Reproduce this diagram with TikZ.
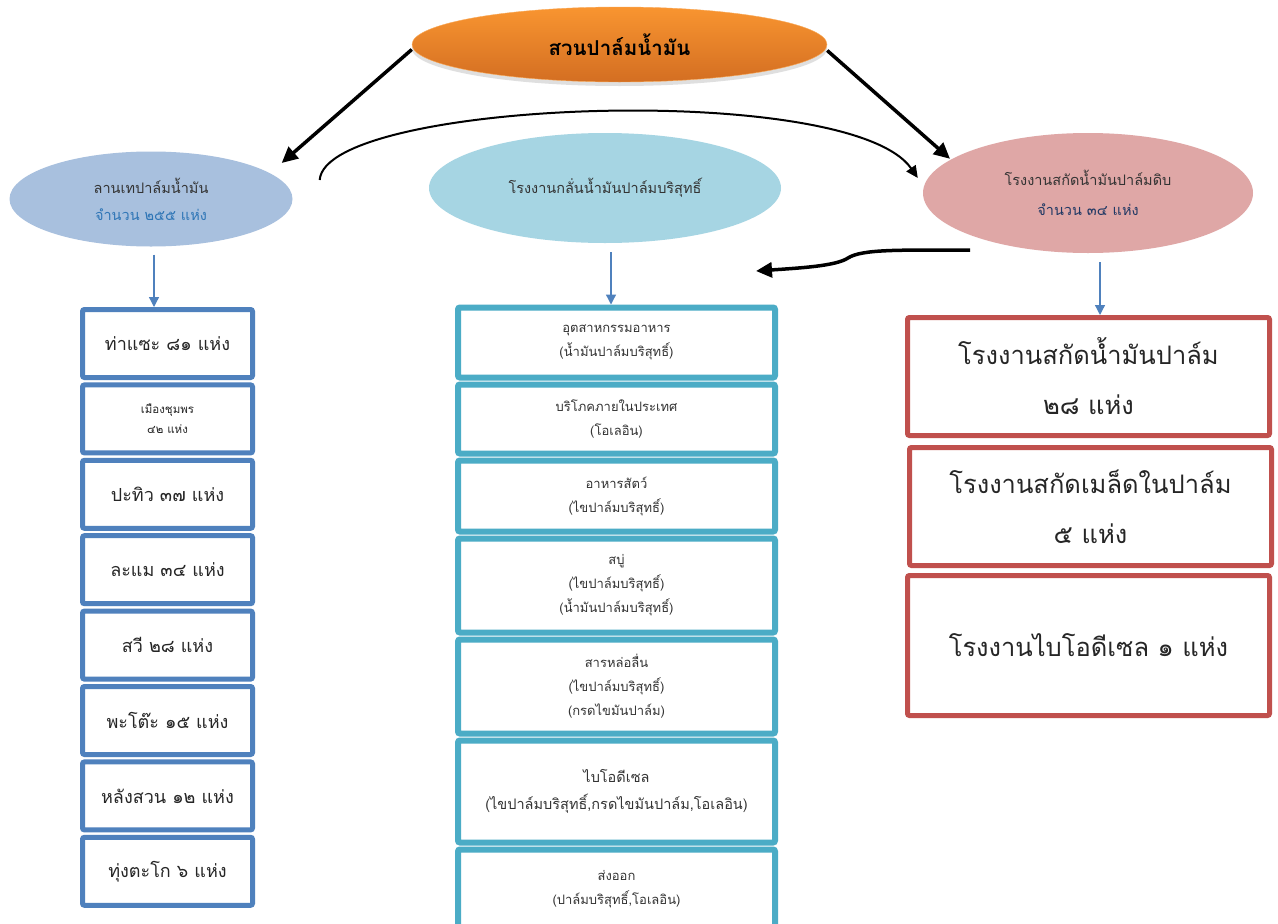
\documentclass[tikz,border=0pt]{standalone}
\usepackage{fontspec}
\setmainfont[Script=Thai]{Loma}
\usetikzlibrary{shapes.geometric,arrows.meta,shadows}
\definecolor{leftblue}{HTML}{4F81BD}
\definecolor{centerblue}{HTML}{4BACC6}
\definecolor{boxred}{HTML}{C0504D}
\definecolor{orangetop}{HTML}{F99530}
\definecolor{orangebot}{HTML}{D36E22}
\definecolor{leftoval}{HTML}{A8C0DE}
\definecolor{centeroval}{HTML}{A6D5E3}
\definecolor{rightoval}{HTML}{DFA7A6}
\definecolor{textblue}{HTML}{2E75B6}
\definecolor{textnavy}{HTML}{203864}
\newcommand{\h}{75.4}
\newcommand{\lx}{167.5}
\newcommand{\cx}{616.5}

\begin{document}
\begin{tikzpicture}[x=1pt,y=-1pt,
    oval/.style={ellipse, inner sep=0pt, align=center, text=black!80},
    lrect/.style={draw=leftblue, line width=5pt, rounded corners=2pt, minimum width=170pt, minimum height=68pt, align=center, text=black!85, font=\fontsize{18}{24}\selectfont},
    crect/.style={draw=centerblue, line width=6pt, rounded corners=2pt, minimum width=317pt, align=center, text=black!80, font=\fontsize{13}{24}\selectfont},
    rrect/.style={draw=boxred, line width=5pt, rounded corners=2pt, minimum width=362pt, minimum height=118pt, align=center, text=black!85, font=\fontsize{25.5}{50}\selectfont},
    down/.style={draw=leftblue, line width=1.3pt, -{Triangle[width=10pt,length=10pt]}},
    fat/.style={line width=3.5pt, -{Triangle[width=15pt,length=16pt]}}]
    \path[use as bounding box, fill=white] (0,0) rectangle (1278,924);

    % Ellipses
    \node[oval, minimum width=415pt, minimum height=75pt, top color=orangetop, bottom color=orangebot, draw=orangetop!80!white, drop shadow={opacity=0.25, shadow xshift=0pt, shadow yshift=-4pt}, text=black, font=\bfseries\fontsize{20.5}{25}\selectfont] (ell-top) at (619.5,44.5) {สวนปาล์มน้ำมัน};
    \node[oval, fill=leftoval, minimum width=283pt, minimum height=95pt, font=\fontsize{14.5}{27}\selectfont] (ell-left) at (151,199) {ลานเทปาล์มน้ำมัน\\\textcolor{textblue}{จำนวน ๒๕๕ แห่ง}};
    \node[oval, fill=centeroval, minimum width=352pt, minimum height=110pt, font=\fontsize{14.5}{27}\selectfont] (ell-center) at (605,188) {โรงงานกลั่นน้ำมันปาล์มบริสุทธิ์};
    \node[oval, fill=rightoval, minimum width=330pt, minimum height=120pt, font=\fontsize{14.5}{30}\selectfont] (ell-right) at (1088,193) {โรงงานสกัดน้ำมันปาล์มดิบ\\\textcolor{textnavy}{จำนวน ๓๔ แห่ง}};

    % Left column
    \node[lrect] (rect-l-1) at (\lx,{343.5+0*\h}) {ท่าแซะ ๘๑ แห่ง};
    \node[lrect, font=\fontsize{11.5}{20}\selectfont] (rect-l-2) at (\lx,{343.5+1*\h}) {เมืองชุมพร\\๔๒ แห่ง};
    \node[lrect] (rect-l-3) at (\lx,{343.5+2*\h}) {ปะทิว ๓๗ แห่ง};
    \node[lrect] (rect-l-4) at (\lx,{343.5+3*\h}) {ละแม ๓๔ แห่ง};
    \node[lrect] (rect-l-5) at (\lx,{343.5+4*\h}) {สวี ๒๘ แห่ง};
    \node[lrect] (rect-l-6) at (\lx,{343.5+5*\h}) {พะโต๊ะ ๑๕ แห่ง};
    \node[lrect] (rect-l-7) at (\lx,{343.5+6*\h}) {หลังสวน ๑๒ แห่ง};
    \node[lrect] (rect-l-8) at (\lx,{343.5+7*\h}) {ทุ่งตะโก ๖ แห่ง};

    % Center column
    \node[crect, minimum height=70pt] (rect-c-1) at (\cx,342.5) {อุตสาหกรรมอาหาร\\(น้ำมันปาล์มบริสุทธิ์)};
    \node[crect, minimum height=69pt] (rect-c-2) at (\cx,419) {บริโภคภายในประเทศ\\(โอเลอิน)};
    \node[crect, minimum height=71pt] (rect-c-3) at (\cx,496) {อาหารสัตว์\\(ไขปาล์มบริสุทธิ์)};
    \node[crect, minimum height=94pt] (rect-c-4) at (\cx,585.5) {สบู่\\(ไขปาล์มบริสุทธิ์)\\(น้ำมันปาล์มบริสุทธิ์)};
    \node[crect, minimum height=94pt] (rect-c-5) at (\cx,686.5) {สารหล่อลื่น\\(ไขปาล์มบริสุทธิ์)\\(กรดไขมันปาล์ม)};
    \node[crect, minimum height=102pt, font=\fontsize{14.5}{27}\selectfont] (rect-c-6) at (\cx,791.5) {ไบโอดีเซล\\(ไขปาล์มบริสุทธิ์,กรดไขมันปาล์ม,โอเลอิน)};
    \node[crect, minimum height=80pt] (rect-c-7) at (\cx,889.5) {ส่งออก\\(ปาล์มบริสุทธิ์,โอเลอิน)};

    % Right column
    \node[rrect] (rect-r-1) at (1088.5,376.5) {โรงงานสกัดน้ำมันปาล์ม\\๒๘ แห่ง};
    \node[rrect] (rect-r-2) at (1090.5,506.5) {โรงงานสกัดเมล็ดในปาล์ม\\๕ แห่ง};
    \node[rrect, minimum height=140pt] (rect-r-3) at (1088.5,645.5) {โรงงานไบโอดีเซล ๑ แห่ง};

    % Arrows
    \draw[fat] ([yshift=-5pt]ell-top.west) -- ([shift={(-11,-36)}]ell-left.east);
    \draw[fat] ([yshift=-6pt]ell-top.east) -- ([shift={(-138,26)}]ell-right.north);
    \draw[line width=2pt, -{Triangle[width=11pt,length=12pt]}] ([shift={(27,-19)}]ell-left.east) .. controls (325,100) and (850,80) .. ([shift={(-5,-15)}]ell-right.west);
    \coordinate (refine-in) at (756,271);
    \draw[fat] ([shift={(-118,-3)}]ell-right.south) .. controls (900,250) and (862,249) .. (848,258) .. controls (836,266) and (800,268) .. (refine-in);
    \draw[down] ([shift={(3,8)}]ell-left.south) -- ([xshift=3pt]ell-left.south |- rect-l-1.north);
    \draw[down] ([shift={(6,9)}]ell-center.south) -- ([xshift=6pt]ell-center.south |- rect-c-1.north);
    \draw[down] ([shift={(12,9)}]ell-right.south) -- ([xshift=12pt]ell-right.south |- rect-r-1.north);
\end{tikzpicture}
\end{document}
